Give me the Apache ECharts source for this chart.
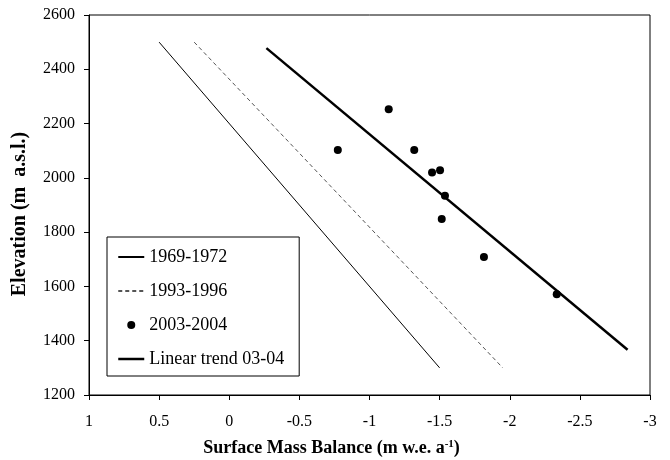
<!DOCTYPE html>
<html>
<head>
<meta charset="utf-8">
<script src="https://cdn.jsdelivr.net/npm/echarts@6/dist/echarts.min.js"></script>
<style>
  html, body { margin: 0; padding: 0; background: #fff; }
  #chart { width: 670px; height: 460px; }
</style>
</head>
<body>
<div id="chart"></div>
<script>
// balance profiles (x = mass balance, y = elevation)
var line6972 = [[0.5, 2500], [-1.5, 1300]];
var line9396 = [[0.25, 2500], [-1.95, 1300]];
var points0304 = [
  [-0.774, 2103], [-1.137, 2253], [-1.319, 2103], [-1.446, 2020],
  [-1.503, 2028], [-1.538, 1934], [-1.515, 1848], [-1.816, 1708],
  [-2.335, 1571]
];
var trend0304 = [[-0.265, 2478], [-2.84, 1367]];
var seriesNames = ['1969-1972', '1993-1996', '2003-2004', 'Linear trend 03-04'];

var serif = 'Liberation Serif, Times New Roman, serif';
var chart = echarts.init(document.getElementById('chart'));

// hide the marker in the legend of the plain line series
var noMarker = { opacity: 0 };

chart.setOption({
  backgroundColor: '#fff',
  animation: false,
  grid: {
    left: 89, right: 20, top: 15, bottom: 65,
    containLabel: false, outerBoundsMode: 'none',
    show: true, borderColor: '#000', borderWidth: 1
  },
  legend: {
    orient: 'vertical',
    left: 107, top: 237,
    padding: [11, 15, 8, 10],
    itemGap: 16,
    itemWidth: 26, itemHeight: 8,
    borderColor: '#000', borderWidth: 1,
    backgroundColor: '#fff',
    textStyle: { fontFamily: serif, fontSize: 18, color: '#000' },
    data: [
      { name: seriesNames[0], itemStyle: noMarker },
      { name: seriesNames[1], itemStyle: noMarker },
      { name: seriesNames[2], icon: 'circle', itemStyle: { color: '#000', opacity: 1 } },
      { name: seriesNames[3], itemStyle: noMarker, lineStyle: { width: 2.5, color: '#000' } }
    ]
  },
  xAxis: {
    type: 'value',
    inverse: true,
    min: -3, max: 1, interval: 0.5,
    splitLine: { show: false },
    axisLine: { onZero: false, lineStyle: { color: '#000', width: 1 } },
    axisTick: { show: true, length: 5, lineStyle: { color: '#000' } },
    axisLabel: { fontFamily: serif, fontSize: 16, color: '#000', margin: 19 },
    name: '{b|Surface Mass Balance (m w.e. a}{s|-1}{b|)}',
    nameLocation: 'middle',
    nameGap: 44,
    nameTextStyle: {
      padding: [0, 76, 0, 0],
      rich: {
        b: { fontFamily: serif, fontSize: 18, fontWeight: 'bold', color: '#000' },
        s: { fontFamily: serif, fontSize: 11, fontWeight: 'bold', color: '#000', verticalAlign: 'top', padding: [0, 0, 8, 0] }
      }
    }
  },
  yAxis: {
    type: 'value',
    min: 1200, max: 2600, interval: 200,
    splitLine: { show: false },
    axisLine: { show: true, onZero: false, lineStyle: { color: '#000', width: 1 } },
    axisTick: { show: true, length: 5, lineStyle: { color: '#000' } },
    axisLabel: {
      fontFamily: serif, fontSize: 16, color: '#000', margin: 14,
      formatter: function (v) { return String(v); }
    },
    name: 'Elevation (m  a.s.l.)',
    nameLocation: 'middle',
    nameGap: 59,
    nameTextStyle: {
      fontFamily: serif, fontSize: 20, fontWeight: 'bold', color: '#000',
      padding: [0, 0, 0, -18]
    }
  },
  series: [
    {
      name: seriesNames[0], type: 'line', data: line6972,
      symbol: 'none', silent: true,
      lineStyle: { color: '#000', width: 1 },
      itemStyle: { color: '#000' }
    },
    {
      name: seriesNames[1], type: 'line', data: line9396,
      symbol: 'none', silent: true,
      lineStyle: { color: '#555', width: 1, type: [4, 3] },
      itemStyle: { color: '#555' }
    },
    {
      name: seriesNames[2], type: 'scatter', data: points0304,
      symbol: 'circle', symbolSize: 8,
      itemStyle: { color: '#000', opacity: 1 }
    },
    {
      name: seriesNames[3], type: 'line', data: trend0304,
      symbol: 'none', silent: true,
      lineStyle: { color: '#000', width: 2.5 },
      itemStyle: { color: '#000' }
    }
  ]
});
</script>
</body>
</html>
